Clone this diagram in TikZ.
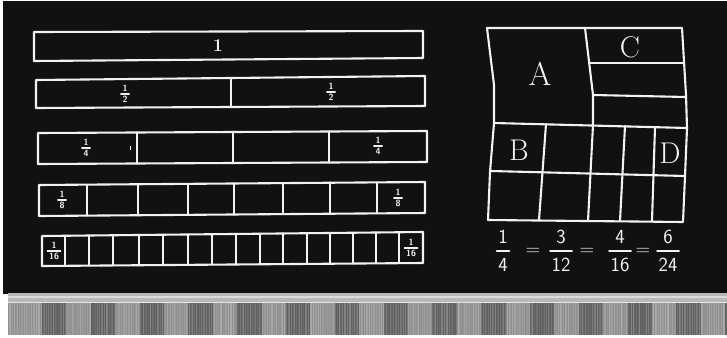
\documentclass[tikz,border=0pt]{standalone}
\usetikzlibrary{calc}
\definecolor{boardc}{HTML}{111111}
\definecolor{chalkc}{HTML}{F2F2F2}
\definecolor{ledgec}{HTML}{B8B8B8}
\definecolor{raillight}{HTML}{909090}
\definecolor{raildark}{HTML}{606060}
\newcommand\chfrac[6]{% style, gap, name, position, numerator, denominator
  \coordinate (#3b) at (#4);
  \node[#1] (#3n) at ($(#3b)+(0,-#2)$) {#5};
  \node[#1] (#3d) at ($(#3b)+(0,#2)$) {#6};
  \draw[fracbar, shorten <=-1.5pt, shorten >=-1.5pt] (#3d.west |- #3b) -- (#3d.east |- #3b);}
\begin{document}
\begin{tikzpicture}[x=1pt,y=-1pt,
  chalk/.style={draw=chalkc,line width=2.1pt,line join=round,line cap=round},
  heavychalk/.style={draw=chalkc,line width=2.6pt,line cap=round},
  smalldig/.style={text=chalkc,inner sep=0pt,font=\sffamily\bfseries\fontsize{9}{9}\selectfont},
  bigdig/.style={text=chalkc,inner sep=0pt,font=\sffamily\fontsize{20}{20}\selectfont},
  letter/.style={text=chalkc,inner sep=0pt,font=\fontsize{30}{30}\selectfont},
  fracbar/.style={draw=chalkc,line width=1.3pt,line cap=round}]
\useasboundingbox (0,0) rectangle (727,337);
% background, board
\fill[white] (0,0) rectangle (727,337);
\fill[boardc] (3,1) rectangle (727,294);
% ledge
\fill[ledgec] (8,293) rectangle (727,302);
\draw[white,opacity=0.5,line width=1.5pt] (8,297) -- (727,297);
% striped rail
\begin{scope}
  \clip (8,302) rectangle (727,335);
  \fill[raillight] (8,302) rectangle (727,335);
  \foreach \i in {0,...,28}{
    \pgfmathsetmacro\xa{42+\i*24.4}
    \ifodd\i\relax\else \fill[raildark] (\xa,302) rectangle (\xa+24.4,335);\fi
  }
  \pgfmathsetseed{11}
  \foreach \x in {9,10.7,...,727}{
    \pgfmathsetmacro\op{0.04+0.22*rnd}
    \draw[white,opacity=\op,line width=0.6pt] (\x,302) -- (\x,335);
  }
  \draw[white!80!gray,line width=1pt] (8,302.5) -- (727,302.5);
\end{scope}

% ---- bar 1
\draw[chalk] (34,32) coordinate (b1tl) -- (423,31) coordinate (b1tr) -- (423,58) coordinate (b1br) -- (34,61) coordinate (b1bl) -- cycle;
\node[text=chalkc,inner sep=0pt,font=\bfseries\fontsize{18}{18}\selectfont] (one) at (218,46) {1};

% ---- bar 1/2
\draw[chalk] (36,80) coordinate (b2tl) -- (425,76) coordinate (b2tr) -- (425,106) coordinate (b2br) -- (36,108) coordinate (b2bl) -- cycle;
\draw[chalk] ($(b2tl)!{(231-36)/389}!(b2tr)$) -- ($(b2bl)!{(231-36)/389}!(b2br)$);
\chfrac{smalldig}{5.5}{h1}{125,94}{1}{2}
\chfrac{smalldig}{5.5}{h2}{331,92}{1}{2}

% ---- bar 1/4
\draw[chalk] (38,133) coordinate (b4tl) -- (427,131) coordinate (b4tr) -- (427,162) coordinate (b4br) -- (38,164) coordinate (b4bl) -- cycle;
\foreach \x in {137,233,329}{
  \draw[heavychalk] ($(b4tl)!{(\x-38)/389}!(b4tr)$) -- ($(b4bl)!{(\x-38)/389}!(b4br)$);
}
\chfrac{smalldig}{5.5}{q1}{86,148}{1}{4}
\chfrac{smalldig}{5.5}{q2}{378,146}{1}{4}
\draw[chalkc,line width=1pt] (130,146) -- (130,150);

% ---- bar 1/8
\draw[chalk] (39,185) coordinate (b8tl) -- (425,182) coordinate (b8tr) -- (425,213) coordinate (b8br) -- (39,216) coordinate (b8bl) -- cycle;
\foreach \x in {87,188,283,377}{
  \draw[chalk] ($(b8tl)!{(\x-39)/386}!(b8tr)$) -- ($(b8bl)!{(\x-39)/386}!(b8br)$);
}
\foreach \x in {138,234,330}{
  \draw[heavychalk] ($(b8tl)!{(\x-39)/386}!(b8tr)$) -- ($(b8bl)!{(\x-39)/386}!(b8br)$);
}
\chfrac{smalldig}{5.5}{e1}{62,200}{1}{8}
\chfrac{smalldig}{5.5}{e2}{398,198}{1}{8}

% ---- bar 1/16
\draw[chalk] (42,236) coordinate (b6tl) -- (423,232) coordinate (b6tr) -- (423,263) coordinate (b6br) -- (42,266) coordinate (b6bl) -- cycle;
\foreach \x in {65,89,113,163,188,212,260,283,307,353,376,399}{
  \draw[chalk] ($(b6tl)!{(\x-42)/381}!(b6tr)$) -- ($(b6bl)!{(\x-42)/381}!(b6br)$);
}
\foreach \x in {139,236,330}{
  \draw[heavychalk] ($(b6tl)!{(\x-42)/381}!(b6tr)$) -- ($(b6bl)!{(\x-42)/381}!(b6br)$);
}
\chfrac{smalldig}{5.5}{s1}{54,251}{1}{16}
\chfrac{smalldig}{5.5}{s2}{411,248}{1}{16}

% ---- right grid
\draw[chalk] (487,28) -- (682,28) -- (686,95) -- (687,128) -- (685,176) -- (683,222)
  -- (488,220) -- (490,172) -- (494,123) -- (494,85) -- cycle;
\draw[chalk] (585,28) -- (593,95) -- (593,125);
\draw[chalk] (589,63) -- (684,63);
\draw[chalk] (593,95) -- (686,97);
\draw[chalk] (494,123) -- (687,128);
\draw[chalk] (491,171) -- (685,176);
\draw[chalk] (546,124) -- (539,220);
\draw[chalk] (593,125) -- (588,221);
\draw[chalk] (625,126) -- (620,221);
\draw[chalk] (655,127) -- (652,221);
\node[letter,font=\fontsize{33}{33}\selectfont] (A) at (540,74) {A};
\node[letter] (C) at (630,47) {C};
\node[letter] (B) at (519,150) {B};
\node[letter] (D) at (670,153) {D};

% ---- equation
\chfrac{bigdig}{14}{f1}{503,251}{1}{4}
\node[bigdig] (eq1) at (533,252) {=};
\chfrac{bigdig}{14}{f2}{561,251}{3}{12}
\node[bigdig] (eq2) at (587,252) {=};
\chfrac{bigdig}{14}{f3}{620,251}{4}{16}
\node[bigdig] (eq3) at (643,252) {=};
\chfrac{bigdig}{14}{f4}{668,251}{6}{24}
\end{tikzpicture}
\end{document}
